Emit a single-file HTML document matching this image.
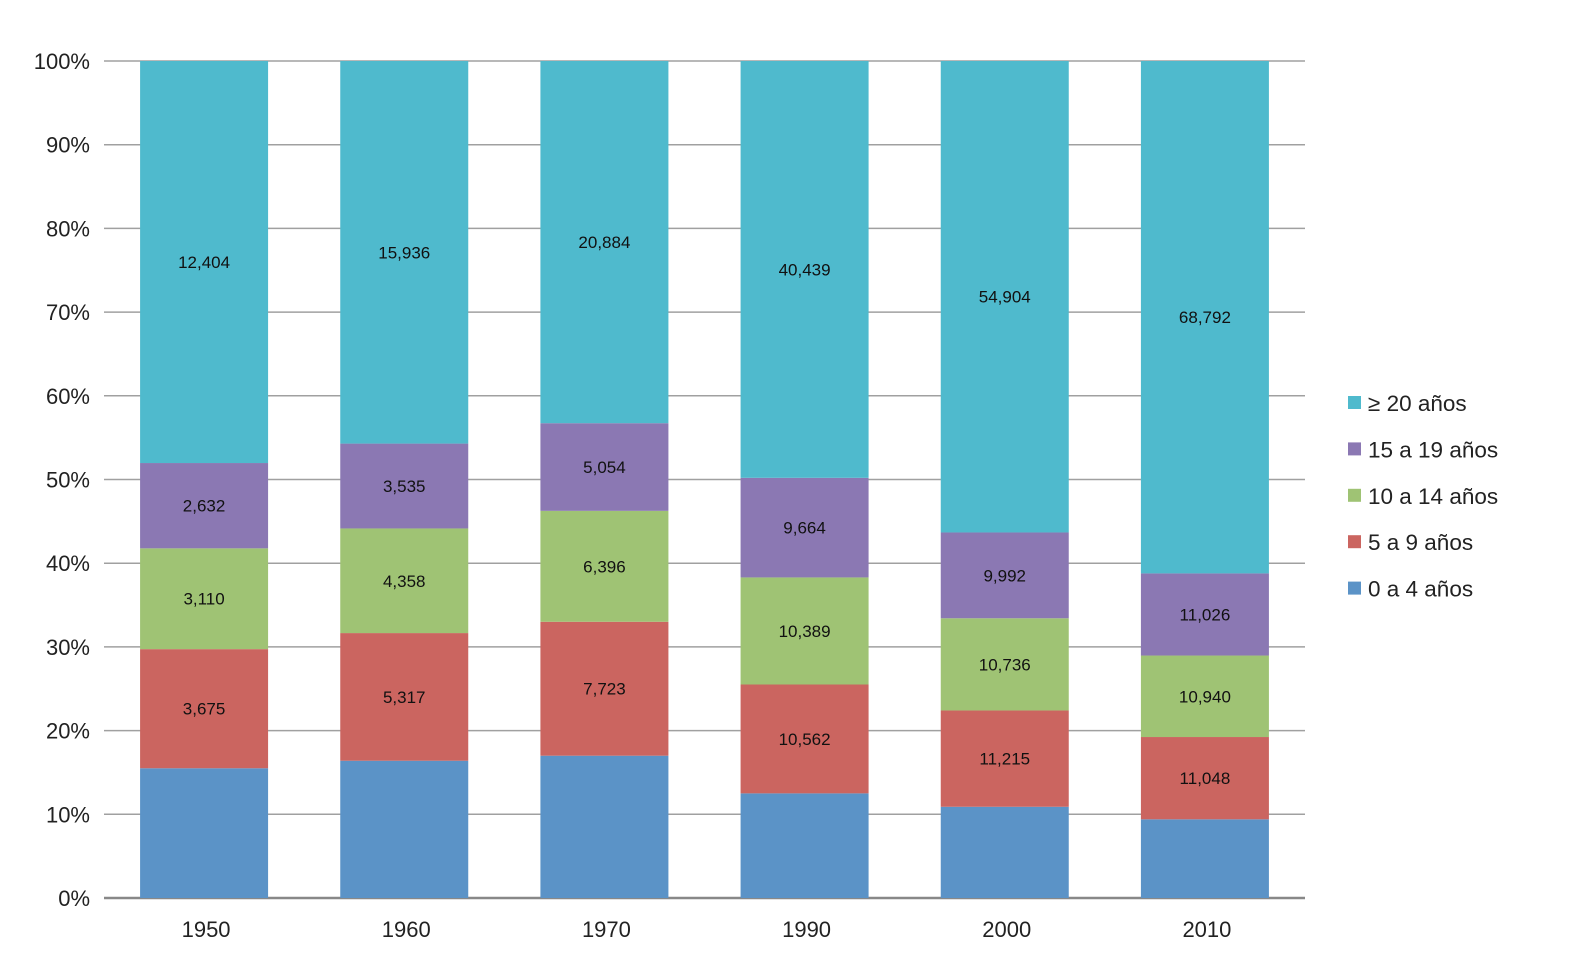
<!DOCTYPE html>
<html><head><meta charset="utf-8"><style>
body{margin:0;background:#fff;}
svg text{font-family:"Liberation Sans",Arial,sans-serif;}
</style></head><body>
<svg id="chart" width="1570" height="970"></svg>
<script>
const categories=["1950","1960","1970","1990","2000","2010"];
const seriesNames=["0 a 4 años","5 a 9 años","10 a 14 años","15 a 19 años","≥ 20 años"];
const s0=[4003,5718,8205,10151,10624,10563];
const s1=[3675,5317,7723,10562,11215,11048];
const s2=[3110,4358,6396,10389,10736,10940];
const s3=[2632,3535,5054,9664,9992,11026];
const s4=[12404,15936,20884,40439,54904,68792];
const showLabel=[false,true,true,true,true];
const yTicks=[0,10,20,30,40,50,60,70,80,90,100];
const colors=["#5b93c7","#cb6560","#9fc374","#8b78b3","#4fbacd"];
const series=[s0,s1,s2,s3,s4];
const NS="http://www.w3.org/2000/svg";
const svg=document.getElementById('chart');
const L=104,R=1305,T=61,B=898;
const band=(R-L)/categories.length,bw=128;
const y=p=>B-(B-T)*p/100;
const x=i=>L+band*i+band/2;
function mk(tag,attrs){const e=document.createElementNS(NS,tag);for(const k in attrs)e.setAttribute(k,attrs[k]);svg.appendChild(e);return e;}
yTicks.forEach(t=>{
  const g=mk('line',{x1:L,x2:R,y1:y(t),y2:y(t),stroke:t===0?'#888':'#a0a0a0','stroke-width':t===0?2.5:1.5});
  
  
  const tx=mk('text',{x:90,y:y(t)+8,'text-anchor':'end','font-size':22,fill:'#222'});
  tx.textContent=t+'%';
  
  
});
categories.forEach((c,i)=>{
  const tot=series.reduce((a,s)=>a+s[i],0);
  let acc=0;
  series.forEach((s,k)=>{
    const p0=acc/tot*100,p1=(acc+s[i])/tot*100;acc+=s[i];
    const r=mk('rect',{x:x(i)-bw/2,y:y(p1),width:bw,height:y(p0)-y(p1),fill:colors[k]});
    
    
    if(showLabel[k]){
      const t=mk('text',{x:x(i),y:(y(p0)+y(p1))/2+6,'text-anchor':'middle','font-size':17,fill:'#111'});
      t.textContent=s[i].toLocaleString('en-US');
      
      
    }
  });
  const t=mk('text',{x:x(i)+2,y:937,'text-anchor':'middle','font-size':22,fill:'#222'});
  t.textContent=c;
  
  
});
for(let k=4;k>=0;k--){
  const yy=403+(4-k)*46.4;
  const r=mk('rect',{x:1348,y:yy-7,width:13,height:13,fill:colors[k]});
  
  
  const t=mk('text',{x:1368,y:yy+8,'font-size':22.5,fill:'#222'});
  t.textContent=seriesNames[k];
  
  
}
</script>
</body></html>
